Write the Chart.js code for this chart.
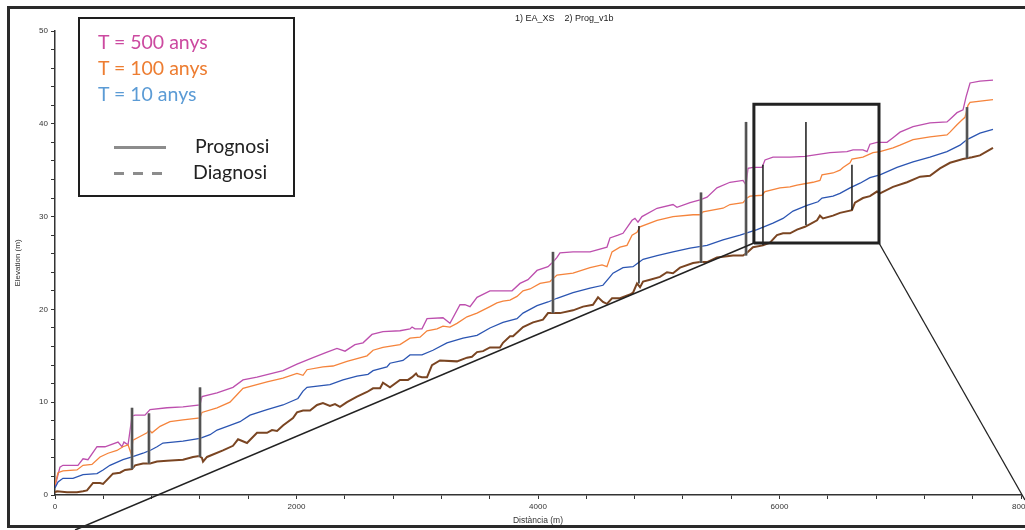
<!DOCTYPE html>
<html><head><meta charset="utf-8">
<script src="https://cdn.jsdelivr.net/npm/chart.js@4.4.0/dist/chart.umd.min.js"></script>
<style>
html,body{margin:0;padding:0;overflow:hidden;background:#fff;}
#wrap{position:relative;width:1025px;height:530px;overflow:hidden;background:#fff;}
#c{position:absolute;left:0;top:0;}
#frame{position:absolute;left:7px;top:6px;width:1100px;height:522px;border:3px solid #2a2a2a;box-sizing:border-box;pointer-events:none;}
#title{position:absolute;left:515px;top:13px;font-family:"Liberation Sans",Arial,sans-serif;font-size:9px;line-height:10px;color:#222;white-space:pre;}
#legend{position:absolute;left:78px;top:17px;width:217px;height:180px;border:2.5px solid #1e1e1e;box-sizing:border-box;background:#fff;}
.lt{position:absolute;font-family:Lato,"Open Sans",sans-serif;font-size:19.5px;line-height:19.5px;white-space:pre;}
.seg{position:absolute;height:3px;background:#8c8c8c;}
</style></head>
<body><div id="wrap">
<canvas id="c" width="1045" height="530"></canvas>
<div id="frame"></div>
<div id="title">1) EA_XS    2) Prog_v1b</div>
<div id="legend"></div>
<div class="lt" style="left:98px;top:32px;color:#cc4aa0;">T = 500 anys</div>
<div class="lt" style="left:98px;top:58px;color:#ed7d31;">T = 100 anys</div>
<div class="lt" style="left:98px;top:84px;color:#5b9bd5;">T = 10 anys</div>
<div class="seg" style="left:114px;top:146px;width:52px;"></div>
<div class="lt" style="left:195px;top:136px;color:#222;">Prognosi</div>
<div class="seg" style="left:114px;top:172px;width:10px;"></div>
<div class="seg" style="left:133px;top:172px;width:10px;"></div>
<div class="seg" style="left:152px;top:172px;width:10px;"></div>
<div class="lt" style="left:193px;top:162px;color:#222;">Diagnosi</div>
</div>
<script>
// Water surface profiles [distance (m), elevation (m)]
const t500 = [[0,0.9],[41,3.0],[66,3.2],[190,3.2],[232,3.9],[273,3.8],[348,5.2],[414,5.2],[522,5.7],[555,5.2],[571,5.7],[605,5.4],[638,8.5],[663,8.6],[745,8.6],[787,9.2],[928,9.4],[1060,9.5],[1201,9.7],[1217,10.6],[1342,11.0],[1474,11.6],[1557,12.4],[1673,12.7],[1888,13.4],[2004,14.1],[2137,14.8],[2253,15.4],[2335,15.8],[2402,15.5],[2484,16.2],[2551,16.4],[2625,17.3],[2716,17.6],[2857,17.7],[2940,17.9],[2957,18.1],[2981,17.9],[3039,17.9],[3081,19.0],[3213,19.1],[3271,18.5],[3354,20.5],[3395,20.5],[3437,20.3],[3495,21.3],[3602,22.0],[3785,22.0],[3851,22.8],[3917,23.2],[3992,24.2],[4083,24.6],[4124,25.1],[4157,25.6],[4182,26.1],[4290,26.2],[4431,26.2],[4571,26.7],[4596,27.7],[4663,28.0],[4704,28.2],[4779,29.6],[4803,29.8],[4828,29.4],[4861,30.0],[4986,30.9],[5118,31.3],[5151,31.0],[5259,31.5],[5342,31.8],[5400,32.1],[5482,33.1],[5590,33.7],[5698,33.9],[5723,33.4],[5739,35.2],[5780,35.3],[5855,35.3],[5880,36.1],[5946,36.4],[6087,36.4],[6211,36.5],[6418,36.9],[6559,37.0],[6609,37.2],[6691,37.2],[6725,37.0],[6749,37.8],[6807,38.0],[6890,38.0],[6940,38.5],[6998,39.1],[7106,39.7],[7246,40.1],[7387,40.2],[7412,40.5],[7470,41.2],[7520,41.5],[7545,42.9],[7578,44.4],[7660,44.6],[7768,44.7]];
const t100 = [[0,1.1],[25,2.4],[66,2.6],[182,2.7],[232,3.2],[306,3.3],[373,4.1],[439,4.5],[513,4.8],[563,5.2],[605,5.4],[629,4.5],[646,5.9],[704,6.3],[762,6.7],[778,7.0],[803,6.7],[870,7.4],[952,7.9],[1060,8.1],[1201,8.3],[1217,8.9],[1342,9.4],[1449,10.0],[1507,10.8],[1557,11.5],[1756,12.2],[1888,12.6],[2004,13.1],[2054,12.9],[2087,13.5],[2219,13.8],[2302,13.9],[2418,14.4],[2584,15.0],[2634,15.6],[2716,15.9],[2857,16.2],[2940,16.9],[3023,17.0],[3081,17.7],[3164,17.9],[3213,18.2],[3271,18.1],[3329,18.5],[3412,19.2],[3495,19.6],[3602,20.3],[3660,20.7],[3710,20.9],[3768,21.0],[3826,21.4],[3876,22.0],[3934,22.2],[4017,22.8],[4099,23.0],[4157,23.7],[4290,23.9],[4431,24.5],[4530,24.8],[4571,24.6],[4613,26.2],[4679,26.7],[4737,26.9],[4779,28.0],[4820,28.3],[4845,28.9],[4986,29.6],[5118,30.0],[5284,30.2],[5342,30.2],[5366,30.5],[5532,30.9],[5590,31.3],[5698,31.5],[5731,32.0],[5756,32.2],[5855,32.3],[5880,32.7],[6004,33.1],[6087,33.2],[6145,33.4],[6277,33.7],[6335,33.9],[6352,34.5],[6443,34.7],[6501,35.0],[6526,35.3],[6584,35.8],[6600,36.2],[6691,36.4],[6774,36.9],[6832,37.0],[6940,37.4],[6998,37.7],[7106,38.3],[7246,38.6],[7387,38.8],[7412,39.1],[7470,39.9],[7511,40.4],[7536,40.7],[7561,42.0],[7578,42.3],[7768,42.6]];
const t10 = [[0,0.75],[25,1.4],[66,1.8],[149,1.8],[232,2.2],[348,2.3],[398,2.7],[455,3.2],[563,3.8],[638,4.1],[729,4.5],[787,4.8],[845,5.2],[894,5.6],[1060,5.8],[1201,6.1],[1284,6.5],[1342,7.0],[1449,7.5],[1532,7.9],[1615,8.6],[1756,9.2],[1888,9.7],[2012,10.4],[2054,11.2],[2087,11.6],[2277,11.9],[2385,12.4],[2501,12.8],[2592,13.0],[2634,13.4],[2749,13.8],[2774,14.2],[2882,14.5],[2940,15.1],[3039,15.1],[3130,15.6],[3246,16.4],[3379,16.9],[3495,17.2],[3602,18.0],[3710,18.6],[3826,19.0],[3876,19.6],[3992,20.4],[4083,20.8],[4157,21.2],[4290,21.8],[4431,22.3],[4538,22.6],[4596,23.5],[4621,23.9],[4704,24.5],[4787,24.6],[4828,25.0],[4870,25.4],[4986,25.8],[5118,26.2],[5259,26.6],[5400,26.9],[5532,27.5],[5673,28.0],[5814,28.6],[5946,29.3],[6029,29.8],[6112,30.6],[6228,31.2],[6319,31.6],[6352,32.0],[6443,32.2],[6501,32.5],[6584,33.1],[6667,33.6],[6749,34.2],[6832,34.5],[6973,35.3],[7106,35.9],[7246,36.4],[7387,37.0],[7495,37.7],[7553,38.3],[7660,39.0],[7768,39.4]];
const bed = [[0,0.3],[17,0.4],[99,0.3],[182,0.3],[232,0.4],[265,0.5],[315,1.3],[373,1.3],[398,1.2],[480,2.3],[538,2.4],[580,2.7],[638,2.8],[663,3.2],[729,3.4],[787,3.4],[845,3.6],[928,3.7],[1060,3.8],[1143,4.1],[1193,4.2],[1217,4.0],[1226,3.6],[1259,4.1],[1391,4.8],[1474,5.3],[1516,6.0],[1590,5.6],[1673,6.7],[1756,6.7],[1797,7.0],[1839,6.9],[1888,7.5],[1971,8.3],[2004,8.9],[2054,9.1],[2112,9.1],[2170,9.7],[2219,9.9],[2277,9.6],[2319,9.8],[2360,9.5],[2418,10.0],[2501,10.6],[2584,11.1],[2634,11.5],[2692,11.5],[2716,12.1],[2774,11.6],[2857,12.4],[2923,12.4],[2957,12.7],[2990,13.1],[3006,12.8],[3039,12.7],[3081,12.7],[3122,14.0],[3188,14.5],[3329,14.4],[3412,14.8],[3453,14.9],[3495,15.4],[3545,15.5],[3602,15.9],[3685,15.9],[3710,16.4],[3768,17.1],[3793,17.1],[3876,18.1],[3959,18.6],[4041,18.9],[4083,19.6],[4124,19.6],[4182,19.6],[4290,19.9],[4373,20.3],[4455,20.5],[4497,21.3],[4538,20.8],[4571,20.6],[4613,21.2],[4679,21.2],[4762,21.6],[4787,21.8],[4820,22.8],[4845,22.4],[4870,23.0],[4928,23.2],[5010,23.5],[5068,24.0],[5118,23.9],[5176,24.5],[5284,25.0],[5342,25.1],[5400,25.1],[5482,25.6],[5615,25.8],[5698,25.8],[5731,26.1],[5780,26.7],[5863,26.9],[5921,27.2],[5979,28.0],[6029,28.2],[6087,28.2],[6145,28.6],[6211,28.9],[6253,29.2],[6311,29.6],[6335,30.1],[6360,29.8],[6443,30.1],[6501,30.4],[6600,30.7],[6625,31.5],[6691,32.0],[6749,32.2],[6807,32.7],[6832,32.5],[6940,33.2],[7056,33.7],[7164,34.3],[7246,34.4],[7329,35.2],[7412,35.8],[7520,36.2],[7594,36.4],[7660,36.6],[7768,37.4]];

// Structures (bridges with deck body / thin inline structures)
const bridgeX = [638, 778, 1201, 4124, 5350, 5723, 7553];
const bridgeBottom = [2.8, 3.4, 4.1, 19.6, 25.0, 25.8, 36.3];
const bridgeTop = [9.4, 8.8, 11.6, 26.2, 32.6, 40.2, 41.8];
const weirX = [4836, 5863, 6219, 6600];
const weirBottom = [22.8, 26.9, 29.1, 30.7];
const weirTop = [29.0, 35.6, 40.2, 35.6];

// Reference slope line and zoom window (data coordinates)
const slopeLine = [[166,-3.77],[5788,27.16]];
const zoomBox = [[5788,27.16],[6824,27.16],[6824,42.1],[5788,42.1],[5788,27.16]];
const zoomLeader = [[6824,27.16],[8033,-0.54]];

const xTicksLabelled = [0, 2000, 4000, 6000, 8000];
const yTicksLabelled = [0, 10, 20, 30, 40, 50];

const pts = a => a.map(([x,y]) => ({x, y}));
const base = {showLine:true, pointRadius:0, pointHoverRadius:0, tension:0, fill:false};
const datasets = [];
datasets.push(Object.assign({}, base, {data:pts(zoomBox), borderColor:'#222', borderWidth:3, clip:false}));
datasets.push(Object.assign({}, base, {data:pts(zoomLeader), borderColor:'#222', borderWidth:1.3, clip:false}));
datasets.push(Object.assign({}, base, {data:pts(slopeLine), borderColor:'#222', borderWidth:1.5, clip:false}));
weirX.forEach((x,i) => datasets.push(Object.assign({}, base, {data:[{x, y:weirBottom[i]},{x, y:weirTop[i]}], borderColor:'#1a1a1a', borderWidth:1.5})));
bridgeX.forEach((x,i) => datasets.push(Object.assign({}, base, {data:[{x, y:bridgeBottom[i]},{x, y:bridgeTop[i]}], borderColor:'#1a1a1a', borderWidth:1})));
bridgeX.forEach((x,i) => datasets.push(Object.assign({}, base, {data:[{x, y:bridgeBottom[i]},{x, y:bridgeTop[i]}], borderColor:'#8f8f8f', borderWidth:3})));
datasets.push(Object.assign({}, base, {data:pts(bed), borderColor:'#7a4522', borderWidth:2}));
datasets.push(Object.assign({}, base, {data:pts(t10), borderColor:'#2b55b2', borderWidth:1.3}));
datasets.push(Object.assign({}, base, {data:pts(t100), borderColor:'#f5843c', borderWidth:1.3}));
datasets.push(Object.assign({}, base, {data:pts(t500), borderColor:'#bd4fae', borderWidth:1.3}));

const tickFont = {family:'"Liberation Sans", Arial, sans-serif', size:8};
new Chart(document.getElementById('c'), {
  type:'scatter',
  data:{datasets},
  options:{
    responsive:false, animation:false, events:[],
    layout:{padding:{left:0, right:24, top:31, bottom:0}},
    plugins:{legend:{display:false}, tooltip:{enabled:false}, title:{display:false}},
    scales:{
      x:{type:'linear', min:0, max:8000,
        afterFit(s){ s.height = 35; },
        ticks:{stepSize:400, autoSkip:false, maxRotation:0, color:'#333', font:tickFont, padding:3,
          callback:v => xTicksLabelled.includes(v) ? String(v) : ''},
        grid:{display:true, drawOnChartArea:false, drawTicks:true, tickLength:4, color:'#333', lineWidth:1},
        border:{display:true, color:'#333', width:1.5},
        title:{display:true, text:'Distància (m)', color:'#333', font:{family:tickFont.family, size:8.5}, padding:{top:0, bottom:4}}
      },
      y:{type:'linear', min:0, max:50,
        afterFit(s){ s.width = 55; },
        ticks:{stepSize:2, autoSkip:false, color:'#333', font:tickFont, padding:3,
          callback:v => yTicksLabelled.includes(v) ? String(v) : ''},
        grid:{display:true, drawOnChartArea:false, drawTicks:true, tickLength:4, color:'#333', lineWidth:1},
        border:{display:true, color:'#333', width:1.5},
        title:{display:true, text:'Elevation (m)', color:'#333', font:{family:tickFont.family, size:8}, padding:{top:13, bottom:0}}
      }
    }
  }
});
</script>
</body></html>
